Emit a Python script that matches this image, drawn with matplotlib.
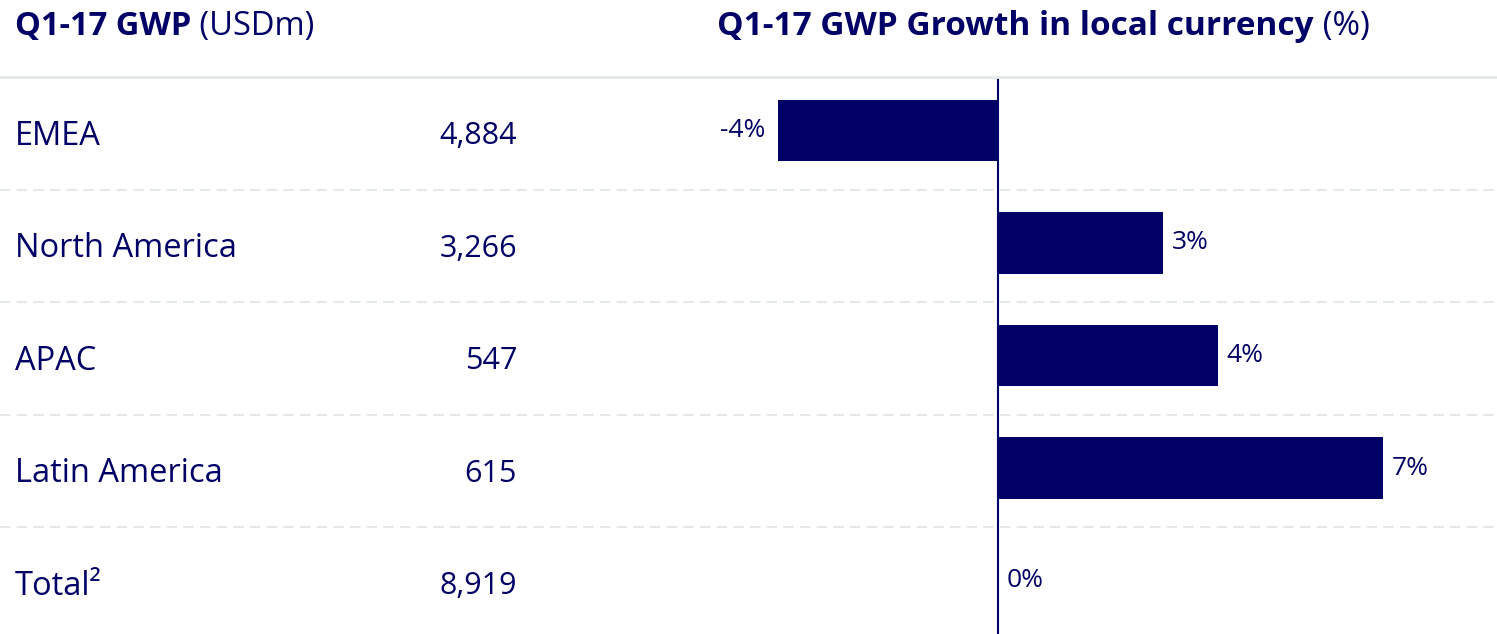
import matplotlib.pyplot as plt
import matplotlib.transforms as mtransforms

# data
regions = ['EMEA', 'North America', 'APAC', 'Latin America', 'Total²']
gwp = ['4,884', '3,266', '547', '615', '8,919']
growth = [-4, 3, 4, 7, 0]

navy = '#000066'
grid_col = '#e4e8e8'
plt.rcParams['font.family'] = ['Open Sans', 'DejaVu Sans']

W, H = 1497, 634
fig = plt.figure(figsize=(W / 100, H / 100), dpi=100)
top_px = 77
ax = fig.add_axes([0, 0, 1, (H - top_px) / H])

zero_px, scale = 998, 55.0
ax.set_xlim(-zero_px / scale, (W - zero_px) / scale)
ax.set_ylim(4.45, -0.5)
ax.axis('off')

rows = list(range(len(regions)))
bar_y = [r - 0.025 for r in rows]
ax.barh(bar_y, growth, height=0.55, color=navy)
ax.axvline(0, color=navy, lw=1.5)

ax.axhline(-0.5, color=grid_col, lw=2, clip_on=False)
for y in [0.5, 1.5, 2.5, 3.5]:
    ax.axhline(y, color=grid_col, lw=1.5, ls=(0, (5, 3)))

tr = mtransforms.blended_transform_factory(fig.transFigure, ax.transData)
for i, (r, g) in enumerate(zip(regions, gwp)):
    ax.text(15 / W, i + 0.025, r, transform=tr, ha='left', va='center',
            fontsize=23.5, color=navy)
    ax.text(517 / W, i + 0.025, g, transform=tr, ha='right', va='center',
            fontsize=22, color=navy)

for i, v in enumerate(growth):
    if v < 0:
        ax.annotate(f'{v}%', xy=(v, bar_y[i]), xytext=(-9, 0), textcoords='offset points',
                    ha='right', va='center', fontsize=19, color=navy)
    else:
        ax.annotate(f'{v}%', xy=(v, bar_y[i]), xytext=(6, 0), textcoords='offset points',
                    ha='left', va='center', fontsize=19, color=navy)

# titles
ty = (H - 35) / H
t1 = fig.text(15 / W, ty, 'Q1-17 GWP', fontsize=23.5, fontweight='bold',
              color=navy, va='baseline')
ax.annotate(' (USDm)', xy=(1, 0), xycoords=t1, ha='left', va='bottom',
            fontsize=23.5, color=navy, annotation_clip=False)
t2 = fig.text(717 / W, ty, 'Q1-17 GWP Growth in local currency', fontsize=24,
              fontweight='bold', color=navy, va='baseline')
ax.annotate(' (%)', xy=(1, 0), xycoords=t2, ha='left', va='bottom',
            fontsize=24, color=navy, annotation_clip=False)

fig.savefig('out.png', dpi=100)
